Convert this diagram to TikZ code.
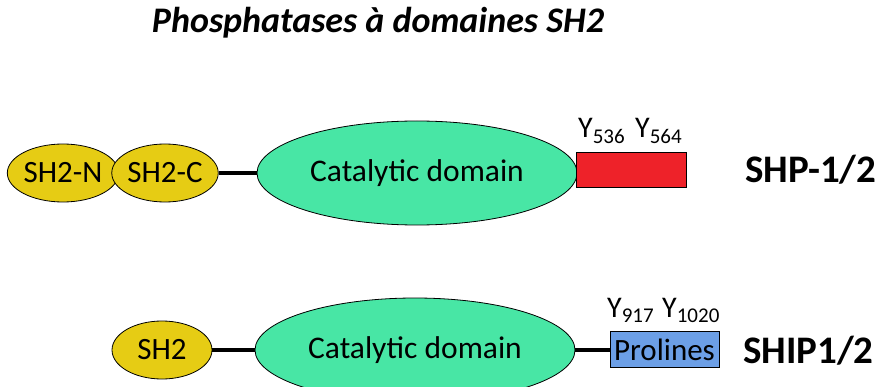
\documentclass[tikz,border=0pt]{standalone}
\usepackage{fontspec}
\setmainfont{Carlito}
\usetikzlibrary{shapes.geometric}
\definecolor{shyellow}{HTML}{E6CC14}
\definecolor{catgreen}{HTML}{48E6A5}
\definecolor{tailred}{HTML}{EE2229}
\definecolor{problue}{HTML}{6C9FE6}
\tikzset{
  dom/.style={ellipse, draw=black, line width=0.8pt, inner sep=0pt},
  smalldom/.style={dom, fill=shyellow, minimum width=100pt, minimum height=58pt, font=\fontsize{31}{36}\selectfont},
  catdom/.style={dom, fill=catgreen, minimum width=320pt, minimum height=104pt, font=\fontsize{31.5}{36}\selectfont},
  tailbox/.style={rectangle, draw=black, line width=0.8pt, inner sep=0pt, font=\fontsize{31}{36}\selectfont},
  link/.style={line width=3.8pt},
  ylab/.style={anchor=base west, inner sep=0pt, font=\fontsize{30}{36}\selectfont},
  protname/.style={anchor=base west, inner sep=0pt, font=\fontsize{39}{44}\selectfont\bfseries},
}
\begin{document}
\begin{tikzpicture}[x=1pt,y=-1pt]
\useasboundingbox (0,0) rectangle (882,387);
\node[anchor=base, inner sep=0pt, font=\fontsize{36}{40}\selectfont\bfseries\itshape] (title) at (378,33) {Phosphatases à domaines SH2};
% SHP-1/2
\node[smalldom] (sh2n) at (63,173) {SH2-N};
\node[smalldom] (sh2c) at (165,173) {SH2-C};
\node[catdom] (cat1) at (417,173) {Catalytic domain};
\node[tailbox, fill=tailred, minimum width=110pt, minimum height=35pt] (red) at (631,169.5) {};
\draw[link] (sh2c.east) -- (cat1.west);
\node[ylab] (y536) at (578,138) {Y\textsubscript{536}};
\node[ylab] (y564) at (635,138) {Y\textsubscript{564}};
\node[protname] (shp) at (745,183) {SHP-1/2};
% SHIP1/2
\node[smalldom] (sh2) at (162,350) {SH2};
\node[catdom] (cat2) at (415,350) {Catalytic domain};
\node[tailbox, fill=problue, minimum width=109pt, minimum height=36pt] (pro) at (664.5,349.5) {Prolines};
\draw[link] (sh2.east) -- (cat2.west);
\draw[link] (cat2.east) -- (cat2.east -| pro.west);
\node[ylab] (y917) at (607,317) {Y\textsubscript{917}};
\node[ylab] (y1020) at (662,317) {Y\textsubscript{1020}};
\node[protname] (ship) at (743,363) {SHIP1/2};
\end{tikzpicture}
\end{document}
